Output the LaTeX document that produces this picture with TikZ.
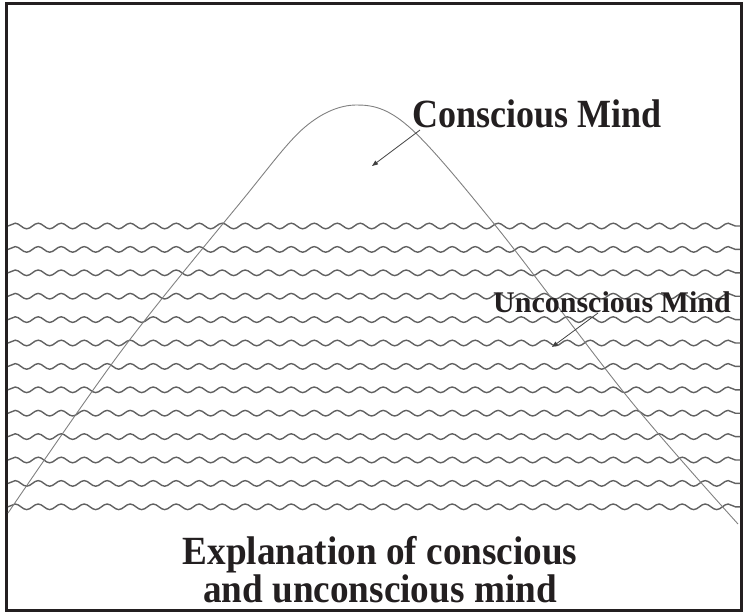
\documentclass[tikz,border=0pt]{standalone}
\usepackage{fontspec}
\setmainfont{Liberation Serif}
\newfontfamily\titlefont[FakeStretch=0.9]{Liberation Serif}
\newfontfamily\capfont[FakeStretch=0.93]{Liberation Serif}
\usepackage{xcolor}
\usepackage{tikz}
\usetikzlibrary{arrows.meta, decorations.pathmorphing}
\definecolor{ink}{HTML}{231F20}

\begin{document}
\begin{tikzpicture}[x=1pt,y=-1pt,>={Triangle[length=6pt,width=4.5pt]},
  wave/.style={draw=black!62,line width=1.4pt,decorate,
    decoration={snake,amplitude=2.8pt,segment length=23pt}},
  pointer/.style={->,draw=black!75,line width=0.8pt},
  label/.style={anchor=base west,inner sep=0pt,text=ink}]
  \useasboundingbox (0,0) rectangle (748,614);
  \draw[ink,line width=3pt] (6.5,3.5) rectangle (741.5,610);
  \foreach \i in {0,...,12}
    \draw[wave] (8,{226+23.4*\i}) -- (740,{226+23.4*\i});
  \draw[black!50,line width=0.9pt] plot[smooth,tension=0.55] coordinates
    {(8,513) (122,350) (240,203) (305,127) (356,105) (408,126)
     (495,225) (630,400) (738,524)};
  \node[label,font=\titlefont\bfseries\fontsize{40}{40}\selectfont]
    (cm) at (412,127) {Conscious Mind};
  \node[label,font=\bfseries\fontsize{30}{30}\selectfont]
    (um) at (493,312) {Unconscious Mind};
  \node[align=center,inner sep=0pt,text=ink,
        font=\capfont\bfseries\fontsize{40}{38}\selectfont]
    (cap) at (380,570) {Explanation of conscious\\and unconscious mind};
  \coordinate (cmtip) at (372,166);
  \coordinate (umtip) at (552,347);
  \draw[pointer] ([shift={(8,3)}]cm.base west) -- (cmtip);
  \draw[pointer] ([shift={(105,1)}]um.base west) -- (umtip);
\end{tikzpicture}
\end{document}
